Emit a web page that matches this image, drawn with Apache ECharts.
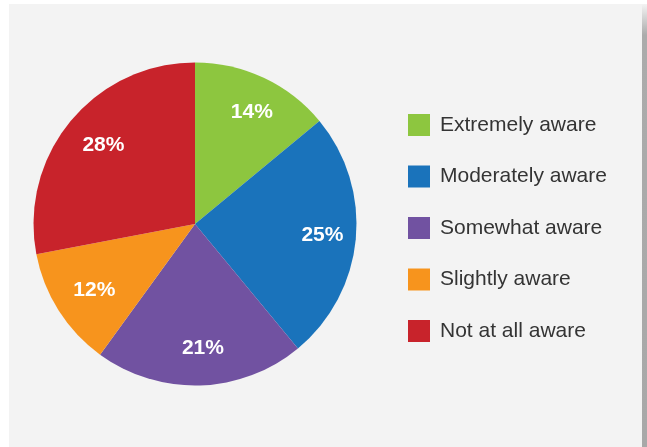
<!DOCTYPE html>
<html>
<head>
<meta charset="utf-8">
<script src="https://cdn.jsdelivr.net/npm/echarts@6/dist/echarts.min.js"></script>
<style>
  html, body { margin: 0; padding: 0; background: #ffffff; }
  #chart { width: 647px; height: 447px; }
</style>
</head>
<body>
<div id="chart"></div>
<script>
// Awareness levels and their shares (percent)
const categories = ['Extremely aware', 'Moderately aware', 'Somewhat aware', 'Slightly aware', 'Not at all aware'];
const shares = [14, 25, 21, 12, 28];
const colors = ['#8dc63f', '#1a73bb', '#7152a1', '#f7941d', '#c8232b'];

const pieData = categories.map((name, i) => ({ name: name, value: shares[i] }));

const chart = echarts.init(document.getElementById('chart'), null, { renderer: 'canvas' });

chart.setOption({
  backgroundColor: '#ffffff',
  animation: false,
  color: colors,
  graphic: [
    // grey card behind the chart
    { type: 'rect', z: -10, shape: { x: 9, y: 4, width: 633, height: 443 }, style: { fill: '#f3f3f3' } },
    // card shadow on the right edge
    {
      type: 'rect', z: -10, shape: { x: 642, y: 4, width: 5, height: 443 },
      style: {
        fill: new echarts.graphic.LinearGradient(0, 0, 0, 1, [
          { offset: 0, color: '#f3f3f3' },
          { offset: 0.07, color: '#ababab' },
          { offset: 1, color: '#a8a8a8' }
        ])
      }
    }
  ],
  legend: {
    orient: 'vertical',
    left: 403,
    top: 109,
    itemWidth: 22,
    itemHeight: 22,
    itemGap: 29.5,
    icon: 'rect',
    selectedMode: false,
    data: categories,
    textStyle: {
      fontFamily: 'Liberation Sans, Arial, sans-serif',
      fontSize: 21,
      color: '#343434',
      padding: [0, 0, 0, 5]
    }
  },
  series: [
    {
      name: 'Awareness',
      type: 'pie',
      center: [195, 224],
      radius: [0, 161.5],
      startAngle: 90,
      clockwise: true,
      silent: true,
      label: { show: false },
      labelLine: { show: false },
      itemStyle: { borderWidth: 0 },
      data: pieData
    },
    {
      // label ring: places the percentage text further out than the slice midpoint
      name: 'Awareness labels',
      type: 'pie',
      center: [199, 224],
      radius: [81, 161],
      startAngle: 90,
      clockwise: true,
      silent: true,
      legendHoverLink: false,
      itemStyle: { color: 'rgba(0,0,0,0)', borderWidth: 0 },
      label: {
        show: true,
        position: 'inside',
        formatter: '{c}%',
        color: '#ffffff',
        fontFamily: 'Liberation Sans, Arial, sans-serif',
        fontWeight: 'bold',
        fontSize: 21
      },
      labelLine: { show: false },
      data: pieData
    }
  ]
});
</script>
</body>
</html>
